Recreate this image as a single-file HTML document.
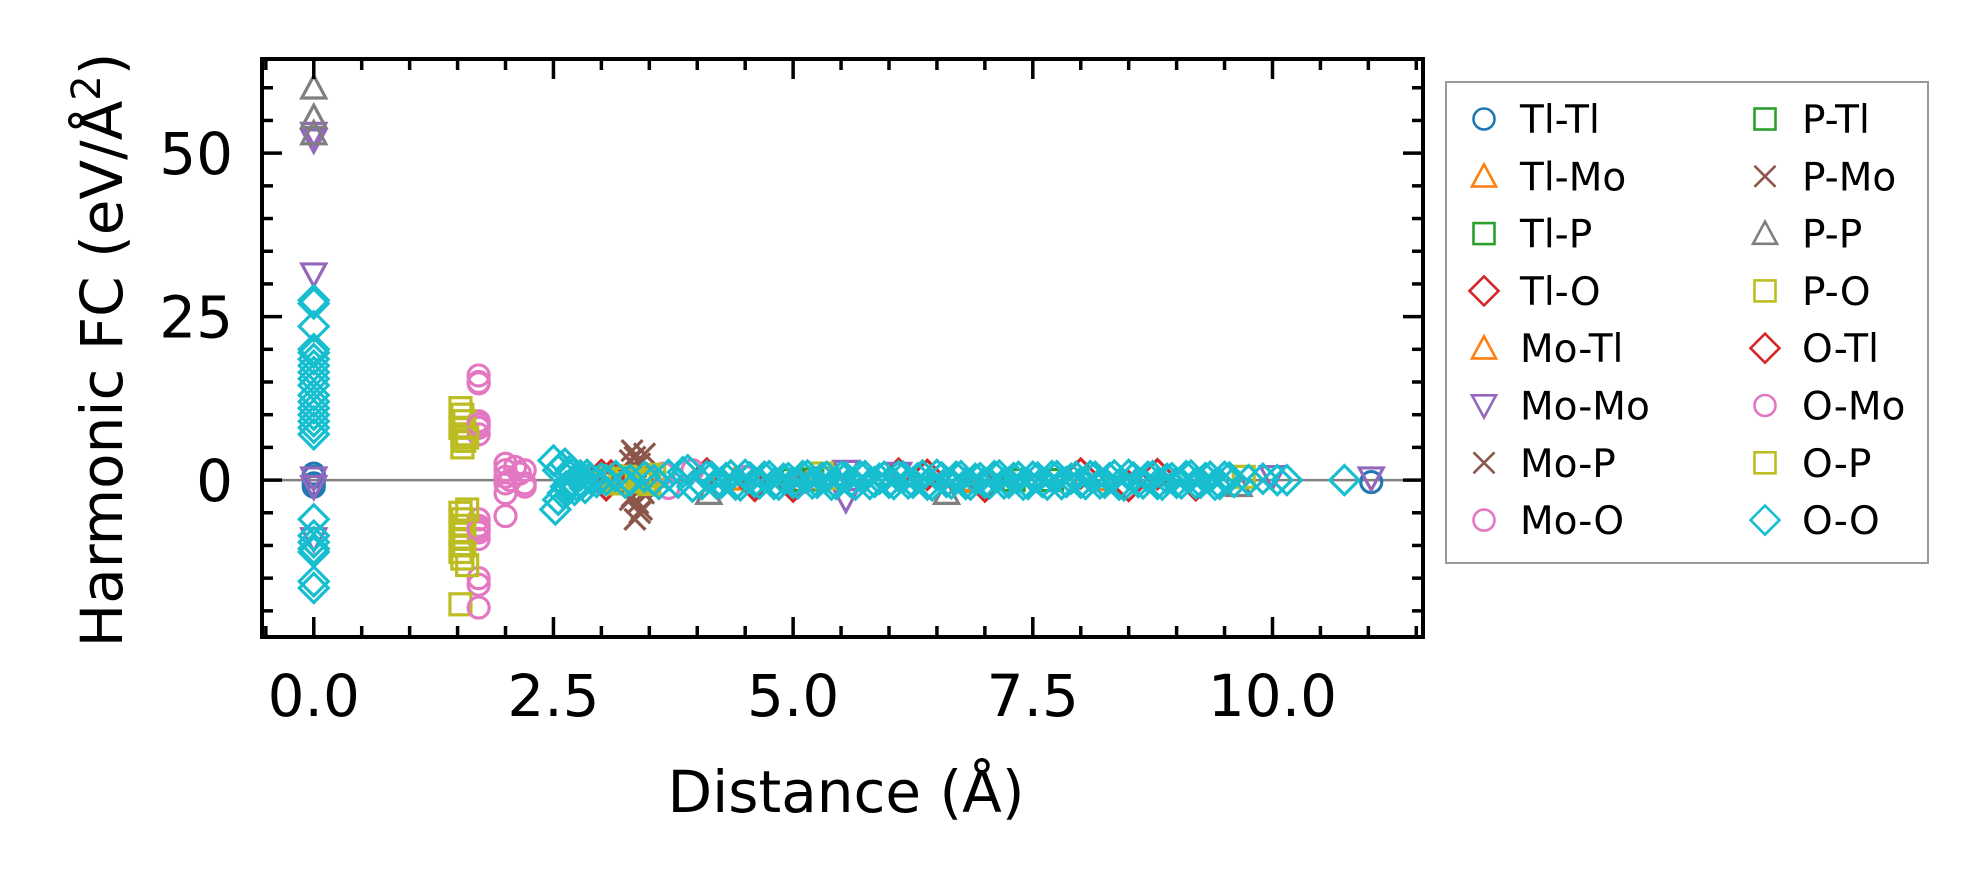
<!DOCTYPE html>
<html><head><meta charset="utf-8">
<style>
html,body{margin:0;padding:0;background:#fff;}
svg{display:block;font-family:"DejaVu Sans","Liberation Sans",sans-serif;}
</style></head>
<body>
<svg id="chart" width="1988" height="883" viewBox="0 0 1988 883" xmlns="http://www.w3.org/2000/svg">
<rect x="0" y="0" width="1988" height="883" fill="#fff"/>
<g id="marks"></g>
<g id="axes"></g>
<g id="legend"></g>
</svg>
<script>
// ---- data ----
const xTicks = [0, 2.5, 5, 7.5, 10];
const xTickLabels = ["0.0", "2.5", "5.0", "7.5", "10.0"];
const yTicks = [0, 25, 50];
const yTickLabels = ["0", "25", "50"];

const ttX = [0, 0, 0, 0, 11.03];
const ttY = [1, 0.5, -0.5, -1, -0.3];
const tmX = [4.4, 6.8, 8.2];
const tmY = [0.2, -0.2, 0.1];
const tpX = [5.2, 7.3];
const tpY = [0.1, 0];
const toX = [3.0, 3.05, 3.4, 4.1, 5.0, 6.1, 7.0, 8.0, 8.8, 9.2];
const toY = [0.8, -0.8, 0.5, 1, -1, 1, -1, 1, 0.9, -0.8];
const mtX = [4.4, 6.8];
const mtY = [0.2, 0];
const mmX = [0, 0, 0, 0, 0, 0, 5.55, 5.55, 6.1, 10.0, 11.03];
const mmY = [53, 52, 31.5, 0.3, -1, -9, 1.3, -3, 1, 0.5, 0.3];
const mpX = [3.32, 3.35, 3.4, 3.45, 3.32, 3.38, 3.42, 3.35];
const mpY = [4.5, 3.5, 2.5, 4, -2.5, -3.5, -4.5, -6];
const moX = [1.72, 1.72, 1.72, 1.72, 1.72, 1.72, 1.72, 1.72, 1.72, 1.72, 1.72, 2.0, 2.0, 2.0, 2.0, 2.0, 2.0, 2.1, 2.15, 2.2, 2.2, 3.65, 3.7, 3.95, 4.5, 5.1];
const moY = [16, 15, 9, 8, 7, -6, -7, -8, -9, -15, -16, 2.5, 1.5, 0.5, -0.5, -2, -5.5, 2, 1, 1.5, -0.5, 1, -1.2, 1.5, 0.5, -0.3];
const ptX = [5.0, 7.7];
const ptY = [0, 0];
const pmX = [3.3, 3.36, 3.44, 3.4, 3.3, 3.38, 3.42];
const pmY = [3, 2, -2, -5, -3, 1, -1];
const ppX = [0, 0, 0, 4.12, 6.6, 9.65];
const ppY = [60, 55.5, 53, -2, -2, -0.8];
const poX = [1.53, 1.55, 1.57, 1.53, 1.55, 1.57, 1.55, 1.53, 1.55, 1.57, 1.53, 1.55, 1.57, 1.53, 1.55, 1.53, 3.05, 3.1, 3.2, 3.25, 3.4, 3.5, 3.55, 5.3, 5.35, 9.7];
const poY = [11, 10, 9, 8, 7, 6, 5, -5, -6, -7, -8, -9, -10, -11, -12, -19, 0, 0.6, -0.5, 0.5, 0, -0.6, 0.6, 1, 0.3, 0.5];
const otX = [3.1, 4.6, 6.4, 8.5];
const otY = [0.7, -0.9, 0.8, -0.9];
const omX = [1.72, 1.72, 1.72, 1.72, 2.05, 2.2];
const omY = [14.8, 8.5, -7.5, -19.5, 0, -1];
const opX = [1.6, 1.6, 1.6, 3.2, 3.55, 3.15, 3.45];
const opY = [6.5, -13, -4.5, -0.5, 0.8, 0.2, -0.2];
const ooX = [0,0,0,0,0,0,0,0,0,0,0,0,0,0,0,0,0,0,0,0,0,0,0,0,
 2.5,2.52,2.55,2.6,2.62,2.65,2.7,2.72,2.75,2.8,2.85,2.9,3.05,3.3,3.55,3.9,3.95,
 4.1,4.2,4.3,4.4,4.5,4.6,4.7,4.8,4.9,5.0,5.1,5.2,5.3,5.4,5.5,5.6,5.7,5.8,5.9,6.0,
 6.1,6.2,6.3,6.4,6.5,6.6,6.7,6.8,6.9,7.0,7.1,7.2,7.3,7.4,7.5,7.6,7.7,7.8,7.9,8.0,
 8.1,8.2,8.3,8.4,8.5,8.6,8.7,8.8,8.9,9.0,9.1,9.2,9.3,9.4,9.5,9.6,
 9.75,9.9,10.05,10.15,10.75];
const ooY = [27.5,27,23.5,20,19.5,18.5,17.5,16.5,15.5,14.5,13,12,11,10,9,8,7,-6,-8.5,-9.5,-10.5,-11,-15.5,-16.5,
 3,-4.5,1.5,-2,2.5,-1,1,-1.5,0.5,-0.5,0.8,0,0,0,0,1.5,-1,
 0.6,-0.5,0.3,-0.7,0.8,-0.3,0.5,-0.6,0.2,-0.4,0.6,-0.5,0.3,-0.7,0.5,-0.3,0.6,-0.6,0.2,-0.4,
 0.6,-0.5,0.3,-0.7,0.8,-0.3,0.5,-0.6,0.2,-0.4,0.6,-0.5,0.3,-0.7,0.5,-0.3,0.6,-0.6,0.2,-0.4,
 0.6,-0.5,0.3,-0.7,0.8,-0.3,0.5,-0.6,0.2,-0.4,0.6,-0.5,0.3,-0.7,0.5,-0.3,
 0,0.2,0,0,0];
// dense O-O band (second batch of pairs)
const ooBandX = [2.55,2.58,2.63,2.68,2.74,2.78,2.83,2.88,2.95,3.0,3.15,3.25,3.45,3.6,3.7,3.8,3.85,
 4.05,4.15,4.25,4.35,4.45,4.55,4.65,4.75,4.85,4.95,5.05,5.15,5.25,5.35,5.45,5.55,5.65,5.75,5.85,5.95,
 6.05,6.15,6.25,6.35,6.45,6.55,6.65,6.75,6.85,6.95,7.05,7.15,7.25,7.35,7.45,7.55,7.65,7.75,7.85,7.95,
 8.05,8.15,8.25,8.35,8.45,8.55,8.65,8.75,8.85,8.95,9.05,9.15,9.25,9.35,9.45,9.55];
const ooBandY = [-3,2,-1,1.5,-0.8,0.7,-1.2,0.4,-0.3,0.3,0.6,-0.4,0.5,-0.6,0.8,-0.4,1.2,
 -0.6,0.5,-0.4,0.7,-0.8,0.4,-0.5,0.6,-0.7,0.3,-0.5,0.7,-0.4,0.5,-0.6,0.4,-0.7,0.6,-0.3,0.5,
 -0.6,0.5,-0.4,0.7,-0.8,0.4,-0.5,0.6,-0.7,0.3,-0.5,0.7,-0.4,0.5,-0.6,0.4,-0.7,0.6,-0.3,0.5,
 -0.6,0.5,-0.4,0.7,-0.8,0.4,-0.5,0.6,-0.7,0.3,-0.5,0.7,-0.4,0.5,-0.6,0.4];

const seriesNames = ["Tl-Tl","Tl-Mo","Tl-P","Tl-O","Mo-Tl","Mo-Mo","Mo-P","Mo-O","P-Tl","P-Mo","P-P","P-O","O-Tl","O-Mo","O-P","O-O"];
const seriesColors = ["#1f77b4","#ff7f0e","#2ca02c","#d62728","#ff7f0e","#9467bd","#8c564b","#e377c2","#2ca02c","#8c564b","#7f7f7f","#bcbd22","#d62728","#e377c2","#bcbd22","#17becf"];
const seriesMarkers = ["o","^","s","D","^","v","x","o","s","x","^","s","D","o","s","D"];
const seriesX = [ttX,tmX,tpX,toX,mtX,mmX,mpX,moX,ptX,pmX,ppX,poX,otX,omX,opX,ooX.concat(ooBandX)];
const seriesY = [ttY,tmY,tpY,toY,mtY,mmY,mpY,moY,ptY,pmY,ppY,poY,otY,omY,opY,ooY.concat(ooBandY)];

// ---- axes ----
const L = 262, R = 1423, T = 59, B = 637;
const xMin = -0.54, xMax = 11.57, yMin = -24.0, yMax = 64.4;
const sx = v => L + (v - xMin) / (xMax - xMin) * (R - L);
const sy = v => B - (v - yMin) / (yMax - yMin) * (B - T);
const NS = "http://www.w3.org/2000/svg";
function mk(tag, attrs, parent) {
  const e = document.createElementNS(NS, tag);
  for (const k in attrs) e.setAttribute(k, attrs[k]);
  parent.appendChild(e);
  return e;
}
const marks = document.getElementById("marks");
const axes = document.getElementById("axes");
const legend = document.getElementById("legend");

const zl = mk("line", {x1: L, x2: R, y1: sy(0), y2: sy(0), stroke: "#808080", "stroke-width": 2.5}, marks);



function drawMarker(parent, m, cx, cy, color, sw) {
  sw = sw || 2.6;
  let e;
  if (m === "o") {
    e = mk("circle", {cx: cx, cy: cy, r: 10.5, fill: "none", stroke: color, "stroke-width": sw}, parent);
  } else if (m === "s") {
    const h = 10.5;
    e = mk("rect", {x: cx - h, y: cy - h, width: 2 * h, height: 2 * h, fill: "none", stroke: color, "stroke-width": sw}, parent);
  } else if (m === "D") {
    const h = 14.5;
    e = mk("polygon", {points: `${cx},${cy-h} ${cx+h},${cy} ${cx},${cy+h} ${cx-h},${cy}`, fill: "none", stroke: color, "stroke-width": sw}, parent);
  } else if (m === "^") {
    const h = 12;
    e = mk("polygon", {points: `${cx},${cy-h} ${cx+h},${cy+h*0.85} ${cx-h},${cy+h*0.85}`, fill: "none", stroke: color, "stroke-width": sw}, parent);
  } else if (m === "v") {
    const h = 12;
    e = mk("polygon", {points: `${cx},${cy+h} ${cx+h},${cy-h*0.85} ${cx-h},${cy-h*0.85}`, fill: "none", stroke: color, "stroke-width": sw}, parent);
  } else {
    const h = 10.5;
    e = mk("path", {d: `M${cx-h},${cy-h}L${cx+h},${cy+h}M${cx-h},${cy+h}L${cx+h},${cy-h}`, fill: "none", stroke: color, "stroke-width": sw}, parent);
  }
  return e;
}

for (let i = 0; i < seriesNames.length; i++) {
  const g = mk("g", {}, marks);
  
  
  const xs = seriesX[i], ys = seriesY[i];
  for (let j = 0; j < xs.length; j++) {
    const p = drawMarker(g, seriesMarkers[i], sx(xs[j]), sy(ys[j]), seriesColors[i], 3.2);
    
    
  }
}

const fr = mk("rect", {x: L, y: T, width: R - L, height: B - T, fill: "none", stroke: "#000", "stroke-width": 4}, axes);



for (let v = -0.5; v <= 11.5 + 1e-9; v += 0.5) {
  const major = Math.abs(v / 2.5 - Math.round(v / 2.5)) < 1e-6;
  const len = major ? 20 : 11;
  const x = sx(v);
  mk("line", {x1: x, x2: x, y1: B, y2: B - len, stroke: "#000", "stroke-width": 3.5}, axes);
  mk("line", {x1: x, x2: x, y1: T, y2: T + len, stroke: "#000", "stroke-width": 3.5}, axes);
}
for (let v = -20; v <= 60; v += 5) {
  const major = v % 25 === 0;
  const len = major ? 20 : 11;
  const y = sy(v);
  mk("line", {x1: L, x2: L + len, y1: y, y2: y, stroke: "#000", "stroke-width": 3.5}, axes);
  mk("line", {x1: R, x2: R - len, y1: y, y2: y, stroke: "#000", "stroke-width": 3.5}, axes);
}
for (let i = 0; i < xTicks.length; i++) {
  const t = mk("text", {x: sx(xTicks[i]), y: 716, "text-anchor": "middle", "font-size": 58, fill: "#000"}, axes);
  t.textContent = xTickLabels[i];
  
  
}
for (let i = 0; i < yTicks.length; i++) {
  const t = mk("text", {x: 233, y: sy(yTicks[i]) + 21, "text-anchor": "end", "font-size": 58, fill: "#000"}, axes);
  t.textContent = yTickLabels[i];
  
  
}
const xt = mk("text", {x: 846, y: 812, "text-anchor": "middle", "font-size": 58, fill: "#000"}, axes);
xt.textContent = "Distance (Å)";


const yt = mk("text", {x: 0, y: 0, "text-anchor": "middle", "font-size": 58, fill: "#000", transform: "translate(122,350) rotate(-90)"}, axes);
yt.innerHTML = 'Harmonic FC (eV/Å<tspan dy="-22" font-size="40">2</tspan><tspan dy="22">)</tspan>';



const lb = mk("rect", {x: 1446, y: 82, width: 482, height: 481, fill: "#fff", stroke: "#999", "stroke-width": 2}, legend);


for (let i = 0; i < seriesNames.length; i++) {
  const col = Math.floor(i / 8), row = i % 8;
  const cy = 119 + row * 57.3;
  const mx = col === 0 ? 1484 : 1765;
  const tx = col === 0 ? 1520 : 1802;
  const g = mk("g", {}, legend);
  
  
  drawMarker(g, seriesMarkers[i], mx, cy, seriesColors[i], 2.6);
  const t = mk("text", {x: tx, y: cy + 14, "font-size": 39, fill: "#000"}, g);
  t.textContent = seriesNames[i];
}
</script>
</body></html>
